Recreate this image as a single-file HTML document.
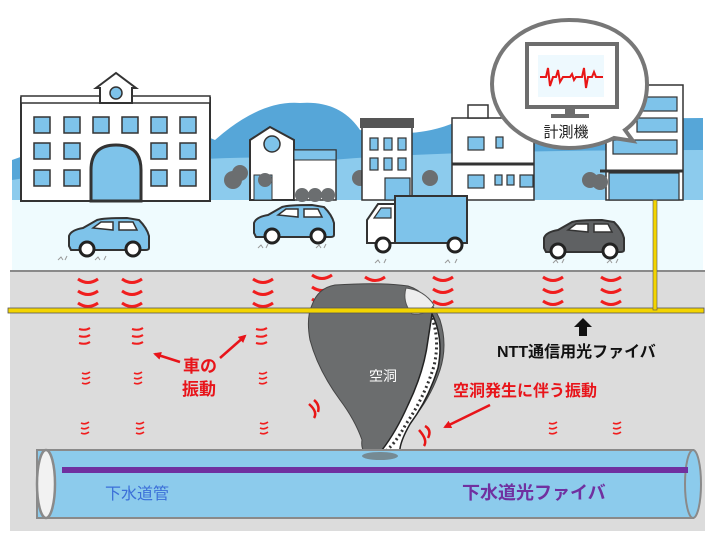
<!DOCTYPE html>
<html><head><meta charset="utf-8"><style>
html,body{margin:0;padding:0;background:#fff}
svg{display:block}
text{font-family:"Liberation Sans","Noto Sans CJK JP",sans-serif}
</style></head><body>
<svg width="713" height="534" viewBox="0 0 713 534" xmlns="http://www.w3.org/2000/svg">
<defs>
<marker id="ar" markerWidth="8" markerHeight="8" refX="6" refY="4" orient="auto" markerUnits="userSpaceOnUse"><path d="M0,0 L8,4 L0,8 z" fill="#e8141a"/></marker>
<g id="car">
 <path d="M2,28 L2,18 Q4,12 16,10 L30,2 Q36,0 60,0 L72,2 Q80,10 82,18 L82,30 Q82,32 78,32 L4,32 Z" fill="#7ec3ea" stroke="#333" stroke-width="2"/>
 <path d="M26,10 L34,4 L46,4 L46,12 Z M52,4 L66,4 L70,12 L52,12 Z" fill="#fff" stroke="#333" stroke-width="1.5"/>
 <circle cx="20" cy="31" r="7" fill="#fff" stroke="#222" stroke-width="3"/>
 <circle cx="66" cy="31" r="7" fill="#fff" stroke="#222" stroke-width="3"/>
</g>
<g id="vib">
 <path d="M-10,0 Q0,7 10,0" fill="none" stroke="#f01e1e" stroke-width="3"/>
 <path d="M-10,12 Q0,19 10,12" fill="none" stroke="#f01e1e" stroke-width="3"/>
 <path d="M-10,24 Q0,31 10,24" fill="none" stroke="#f01e1e" stroke-width="3"/>
</g>
<g id="sv">
 <path d="M-6,0 Q0,2 5,-1 M-6,7 Q0,9 5,6 M-6,14 Q0,16 5,13" fill="none" stroke="#f01e1e" stroke-width="2"/>
</g>
<g id="sv2">
 <path d="M-4,0 Q0,2 4,-1 M-4,5 Q0,7 4,4 M-4,10 Q0,12 4,9" fill="none" stroke="#f01e1e" stroke-width="1.6"/>
</g>
</defs>
<rect width="713" height="534" fill="#fff"/>
<!-- mountains -->
<path d="M12,160 Q150,110 215,140 Q260,100 300,103 Q340,100 360,130 Q420,140 460,120 L703,118 L703,200 L12,200 Z" fill="#56a6d8"/>
<path d="M12,180 Q200,150 330,160 Q450,150 703,150 L703,200 L12,200 Z" fill="#8ccbed"/>
<rect x="12" y="200" width="691" height="71" fill="#effbfe"/>
<rect x="10" y="271" width="695" height="260" fill="#dcdcdc"/>
<line x1="10" y1="271" x2="705" y2="271" stroke="#8a8a8a" stroke-width="2"/>
<!-- school -->
<rect x="21" y="98" width="189" height="103" fill="#fff" stroke="#333" stroke-width="2"/>
<rect x="21" y="96" width="79" height="7" fill="#fff" stroke="#333" stroke-width="1.5"/>
<rect x="132" y="96" width="78" height="7" fill="#fff" stroke="#333" stroke-width="1.5"/>
<path d="M96,88 L116,73 L136,88 L132,88 L132,103 L100,103 L100,88 Z" fill="#fff" stroke="#333" stroke-width="2"/>
<circle cx="116" cy="93" r="6" fill="#7ec3ea" stroke="#333" stroke-width="1.5"/>
<g fill="#7ec3ea" stroke="#333" stroke-width="1.5">
<rect x="34" y="117" width="16" height="16"/><rect x="64" y="117" width="16" height="16"/><rect x="93" y="117" width="16" height="16"/><rect x="122" y="117" width="16" height="16"/><rect x="151" y="117" width="16" height="16"/><rect x="180" y="117" width="16" height="16"/>
<rect x="34" y="143" width="16" height="16"/><rect x="64" y="143" width="16" height="16"/><rect x="151" y="143" width="16" height="16"/><rect x="180" y="143" width="16" height="16"/>
<rect x="34" y="170" width="16" height="16"/><rect x="64" y="170" width="16" height="16"/><rect x="151" y="170" width="16" height="16"/><rect x="180" y="170" width="16" height="16"/>
</g>
<path d="M91,201 L91,170 Q91,145 116,145 Q141,145 141,170 L141,201 Z" fill="#7ec3ea" stroke="#333" stroke-width="3"/>
<!-- house -->
<path d="M250,140 L270,127 L294,140 L294,200 L250,200 Z" fill="#fff" stroke="#333" stroke-width="2"/>
<circle cx="272" cy="144" r="8" fill="#7ec3ea" stroke="#333" stroke-width="1.5"/>
<rect x="294" y="150" width="42" height="50" fill="#fff" stroke="#333" stroke-width="1.5"/>
<rect x="294" y="150" width="42" height="10" fill="#7ec3ea" stroke="#333" stroke-width="1"/>
<rect x="254" y="175" width="18" height="25" fill="#7ec3ea" stroke="#333" stroke-width="1"/>
<g fill="#6b6e70"><circle cx="233" cy="180" r="9"/><circle cx="240" cy="173" r="8"/><circle cx="302" cy="195" r="7"/><circle cx="315" cy="195" r="7"/><circle cx="328" cy="195" r="7"/><circle cx="265" cy="180" r="7"/><circle cx="430" cy="178" r="8"/><circle cx="360" cy="178" r="8"/></g>
<!-- townhouse -->
<rect x="362" y="126" width="50" height="74" fill="#fff" stroke="#333" stroke-width="1.5"/>
<rect x="360" y="118" width="54" height="10" fill="#555"/>
<g fill="#7ec3ea" stroke="#333" stroke-width="1.2"><rect x="370" y="138" width="8" height="12"/><rect x="384" y="138" width="8" height="12"/><rect x="398" y="138" width="8" height="12"/><rect x="370" y="158" width="8" height="12"/><rect x="384" y="158" width="8" height="12"/><rect x="398" y="158" width="8" height="12"/><rect x="385" y="178" width="25" height="22"/></g>
<!-- apartment -->
<rect x="452" y="118" width="82" height="82" fill="#fff" stroke="#333" stroke-width="1.5"/>
<rect x="468" y="105" width="20" height="13" fill="#fff" stroke="#333" stroke-width="1.5"/>
<line x1="452" y1="164" x2="534" y2="164" stroke="#333" stroke-width="3"/>
<g fill="#7ec3ea" stroke="#333" stroke-width="1.2"><rect x="468" y="137" width="16" height="13"/><rect x="496" y="137" width="7" height="11"/><rect x="468" y="175" width="16" height="13"/><rect x="495" y="175" width="7" height="10"/><rect x="507" y="175" width="7" height="10"/><rect x="520" y="175" width="13" height="12"/></g>
<!-- right building -->
<rect x="606" y="85" width="77" height="115" fill="#fff" stroke="#333" stroke-width="1.5"/>
<g fill="#7ec3ea" stroke="#333" stroke-width="1.2"><rect x="637" y="97" width="40" height="14"/><rect x="637" y="118" width="40" height="14"/><rect x="613" y="140" width="64" height="14"/><rect x="609" y="173" width="70" height="27"/></g>
<line x1="600" y1="171" x2="683" y2="171" stroke="#333" stroke-width="3"/>
<g fill="#6b6e70"><circle cx="590" cy="180" r="8"/><circle cx="600" cy="182" r="8"/></g>
<!-- bubble -->
<path d="M569,20 C620,20 647,50 647,84 C647,108 636,122 625,130 L633,141 L614,138 C600,145 585,148 569,148 C527,148 492,120 492,84 C492,48 525,20 569,20 Z" fill="#fff" stroke="#777" stroke-width="4"/>
<rect x="527" y="44" width="90" height="63" fill="#fff" stroke="#6d6d6d" stroke-width="4"/>
<rect x="538" y="55" width="66" height="42" fill="#eef9fe"/>
<rect x="565" y="107" width="10" height="8" fill="#6d6d6d"/><rect x="551" y="114" width="38" height="4" fill="#6d6d6d"/>
<path d="M540,77 L546,77 L548,68 L550,86 L553,77 L556,77 L558,70 L560,82 L563,77 L570,77 L572,74 L574,80 L576,77 L582,77 L584,68 L586,88 L588,77 L592,77 L594,72 L596,77 L603,77" fill="none" stroke="#e81616" stroke-width="2"/>
<text x="566" y="137" font-size="15" text-anchor="middle" fill="#222">計測機</text>
<!-- cars -->
<use href="#car" x="67" y="218"/>
<use href="#car" x="252" y="205"/>
<g transform="translate(542,220)"><path d="M2,28 L2,18 Q4,12 16,10 L30,2 Q36,0 60,0 L72,2 Q80,10 82,18 L82,30 Q82,32 78,32 L4,32 Z" fill="#5f6163" stroke="#333" stroke-width="2"/><path d="M26,10 L34,4 L46,4 L46,12 Z M52,4 L66,4 L70,12 L52,12 Z" fill="#fff" stroke="#333" stroke-width="1.5"/><circle cx="16" cy="31" r="7" fill="#fff" stroke="#222" stroke-width="3"/><circle cx="68" cy="31" r="7" fill="#fff" stroke="#222" stroke-width="3"/></g>
<!-- truck -->
<rect x="395" y="196" width="72" height="47" fill="#7ec3ea" stroke="#333" stroke-width="2"/>
<path d="M367,243 L367,220 L378,204 L395,204 L395,243 Z" fill="#fff" stroke="#333" stroke-width="2"/>
<path d="M374,218 L381,208 L391,208 L391,218 Z" fill="#7ec3ea" stroke="#333" stroke-width="1.2"/>
<circle cx="383" cy="245" r="7" fill="#fff" stroke="#222" stroke-width="3"/><circle cx="455" cy="245" r="7" fill="#fff" stroke="#222" stroke-width="3"/>
<g stroke="#999" stroke-width="1" fill="none"><path d="M58,260 l3,-3 l2,3 M65,260 l2,-4 M95,260 l3,-3 l2,3 M104,260 l2,-4 M258,248 l3,-3 l2,3 M266,248 l2,-4 M316,248 l3,-3 l2,3 M324,248 l2,-4 M375,263 l3,-3 l2,3 M384,263 l2,-4 M445,263 l3,-3 l2,3 M455,263 l2,-4 M553,263 l3,-3 l2,3 M562,263 l2,-4 M607,263 l3,-3 l2,3 M616,263 l2,-4"/></g>
<!-- vibration arcs -->
<use href="#vib" x="88" y="279"/><use href="#vib" x="132" y="279"/><use href="#vib" x="263" y="279"/><use href="#vib" x="322" y="275"/><use href="#vib" x="375" y="277"/><use href="#vib" x="443" y="277"/><use href="#vib" x="553" y="277"/><use href="#vib" x="611" y="277"/>
<!-- cavity -->
<path d="M312,305 Q318,288 335,285 Q380,282 408,286 Q428,292 440,320 Q448,345 440,370 Q430,400 408,425 Q395,445 400,455 Q390,462 372,460 Q360,452 362,440 Q355,420 340,400 Q318,370 310,340 Q306,318 312,305 Z" fill="#6b6d6e" stroke="#444" stroke-width="1"/>
<path d="M406,288 Q424,290 434,305 Q426,316 412,314 Q402,302 406,288 Z" fill="#eee" stroke="#555" stroke-width="1"/>
<path d="M432,314 Q444,338 438,368 Q428,400 410,424 Q398,445 400,455 Q390,461 374,458 L382,450 Q396,432 408,405 Q424,372 428,340 Z" fill="#fff" stroke="#222" stroke-width="1.5"/>
<path d="M432,318 Q440,340 434,366 Q424,398 406,424 Q394,446 384,452" fill="none" stroke="#333" stroke-width="3" stroke-dasharray="2,3"/>
<text x="383" y="381" font-size="14" fill="#fff" text-anchor="middle">空洞</text>
<!-- yellow fibers -->
<rect x="8" y="308" width="696" height="5" fill="#f3d400" stroke="#555" stroke-width="0.8"/>
<rect x="653" y="200" width="4" height="110" fill="#f3d400" stroke="#555" stroke-width="0.6"/>
<!-- small vibrations -->
<use href="#sv" x="85" y="329"/><use href="#sv" x="138" y="329"/><use href="#sv" x="262" y="329"/>
<use href="#sv2" x="86" y="373"/><use href="#sv2" x="138" y="373"/><use href="#sv2" x="263" y="373"/>
<use href="#sv2" x="85" y="423"/><use href="#sv2" x="140" y="423"/><use href="#sv2" x="264" y="423"/><use href="#sv2" x="553" y="423"/><use href="#sv2" x="617" y="423"/>
<path d="M314,400 Q320,405 318,412 M309,404 Q318,412 314,418" fill="none" stroke="#e81616" stroke-width="2.5"/>
<path d="M425,426 Q432,430 428,438 M419,430 Q428,440 424,446" fill="none" stroke="#e81616" stroke-width="2.5"/>
<!-- labels -->
<path d="M583,318 L592,327 L587,327 L587,336 L579,336 L579,327 L574,327 Z" fill="#111"/>
<text x="497" y="357" font-size="16" font-weight="bold" fill="#111">NTT通信用光ファイバ</text>
<text x="183" y="372" font-size="17" font-weight="bold" fill="#e8141a">車の</text>
<text x="182" y="395" font-size="17" font-weight="bold" fill="#e8141a">振動</text>
<line x1="180" y1="362" x2="155" y2="354" stroke="#e8141a" stroke-width="2.5" marker-end="url(#ar)"/>
<line x1="220" y1="358" x2="245" y2="336" stroke="#e8141a" stroke-width="2.5" marker-end="url(#ar)"/>
<text x="453" y="396" font-size="16" font-weight="bold" fill="#e8141a">空洞発生に伴う振動</text>
<line x1="490" y1="405" x2="445" y2="427" stroke="#e8141a" stroke-width="2.5" marker-end="url(#ar)"/>
<!-- pipe -->
<rect x="37" y="450" width="656" height="68" fill="#8ccbec" stroke="#8a8a8a" stroke-width="2"/>
<ellipse cx="693" cy="484" rx="8" ry="34" fill="#8ccbec" stroke="#8a8a8a" stroke-width="2"/>
<ellipse cx="46" cy="484" rx="9" ry="34" fill="#f2f2f2" stroke="#8a8a8a" stroke-width="2.5"/>
<rect x="62" y="467" width="626" height="6" fill="#7030a0"/>
<ellipse cx="380" cy="456" rx="18" ry="4" fill="#6b6d6e" opacity="0.7"/>
<text x="105" y="499" font-size="16" fill="#3b6fd8">下水道管</text>
<text x="462" y="499" font-size="18" font-weight="bold" fill="#7030a0">下水道光ファイバ</text>
</svg>
</body></html>
